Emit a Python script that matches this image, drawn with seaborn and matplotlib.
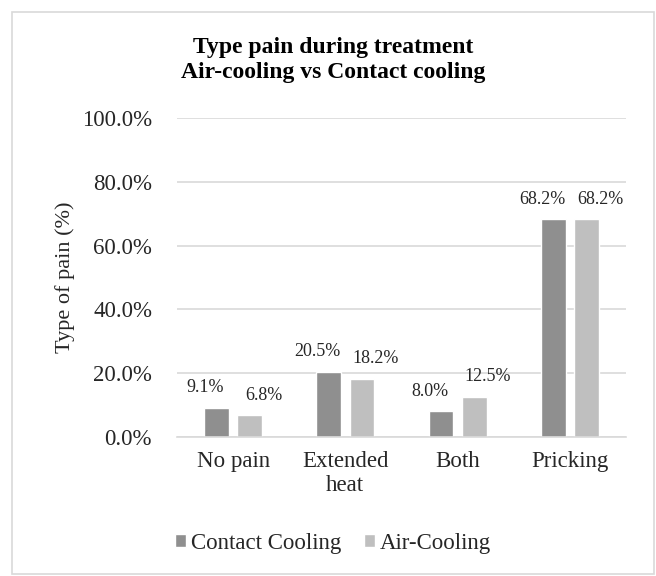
import pandas as pd
import matplotlib
matplotlib.use("Agg")
import matplotlib.pyplot as plt
import seaborn as sns
from matplotlib.ticker import PercentFormatter
from matplotlib.patches import Rectangle

categories = ["No pain", "Extended\nheat", "Both", "Pricking"]
contact_cooling = [9.1, 20.5, 8.0, 68.2]
air_cooling = [6.8, 18.2, 12.5, 68.2]
series_names = ["Contact Cooling", "Air-Cooling"]
palette = {"Contact Cooling": "#8f8f8f", "Air-Cooling": "#bfbfbf"}

df = pd.DataFrame({
    "Category": categories * 2,
    "Series": [series_names[0]] * 4 + [series_names[1]] * 4,
    "Value": [v / 100 for v in contact_cooling + air_cooling],
})

sns.set_theme(style="white")
plt.rcParams['font.family'] = ['Liberation Serif', 'DejaVu Serif']
text_color = "#262626"

W, H = 656, 576
fig = plt.figure(figsize=(W / 100, H / 100), dpi=100)
ax = fig.add_axes([177 / W, 1 - 437 / H, 449 / W, 319 / H])

sns.barplot(data=df, x="Category", y="Value", hue="Series", palette=palette,
            width=0.59, gap=0.25, saturation=1, ax=ax, legend=True)

# Excel-style data labels, nudged apart from each other
label_dx = [-8, 10]
for cont, dx in zip(ax.containers, label_dx):
    for bar in cont:
        h = bar.get_height()
        ax.annotate(f"{h*100:.1f}%", (bar.get_x() + bar.get_width() / 2, h),
                    xytext=(dx, 14.5), textcoords="offset points",
                    ha="center", va="center", fontsize=13, color=text_color)

ax.set_ylim(0, 1.0)
ax.set_yticks([0, 0.2, 0.4, 0.6, 0.8, 1.0])
ax.yaxis.set_major_formatter(PercentFormatter(1.0, decimals=1))
ax.grid(axis="y", color="#d9d9d9", linewidth=1.2)
ax.set_axisbelow(True)
for s in ["top", "right", "left"]:
    ax.spines[s].set_visible(False)
ax.spines["bottom"].set_color("#d9d9d9")
ax.spines["bottom"].set_linewidth(1.2)
ax.tick_params(axis="both", length=0, labelsize=16.5, colors=text_color)
ax.tick_params(axis="y", pad=18)
ax.tick_params(axis="x", pad=10)
ax.set_xlabel("")
ax.set_ylabel("Type of pain (%)", fontsize=16, color=text_color)
ax.yaxis.set_label_coords(-0.228, 0.5)

fig.text(333 / W, 1 - 60 / H, "Type pain during treatment\nAir-cooling vs Contact cooling",
         ha="center", va="center", fontsize=17, fontweight="bold", color="black",
         linespacing=1.25)

handles, labels = ax.get_legend_handles_labels()
ax.get_legend().remove()
fig.legend(handles, labels, loc="center", bbox_to_anchor=(333 / W, 1 - 543 / H),
           ncol=2, frameon=False, fontsize=16.5, handlelength=0.5, handleheight=0.5,
           handletextpad=0.2, columnspacing=1.0, labelcolor=text_color)

fig.patches.append(Rectangle((12 / W, 2 / H), 642 / W, 562 / H, transform=fig.transFigure,
                             fill=False, edgecolor="#d9d9d9", linewidth=1.2))

fig.savefig("out.png", dpi=100)
